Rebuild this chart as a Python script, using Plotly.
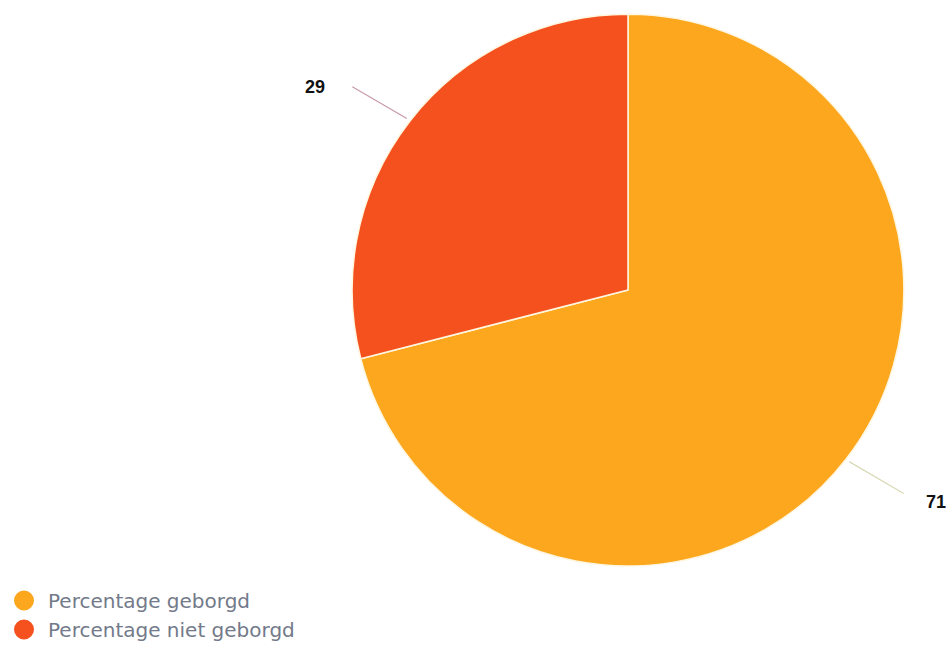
import math
import plotly.graph_objects as go

labels = ["Percentage geborgd", "Percentage niet geborgd"]
values = [71, 29]
colors = ["#FCA71D", "#F4511E"]
connector_colors = ["#d9d9b8", "#c79aa8"]

W, H = 950, 645
# pie domain (paper)
dom_x = [0.3705, 0.9516]
dom_y = [0.1225, 0.978]

fig = go.Figure()
fig.add_trace(go.Pie(
    labels=labels, values=values, sort=False, direction="clockwise", rotation=0,
    marker=dict(colors=colors, line=dict(color="#fff6e0", width=1.5)),
    textinfo="none", hoverinfo="label+value", showlegend=False,
    domain=dict(x=dom_x, y=dom_y),
))

# legend entries with circle symbols
for lab, col in zip(labels, colors):
    fig.add_trace(go.Scatter(
        x=[None], y=[None], mode="markers", name=lab,
        marker=dict(symbol="circle", size=16, color=col, line=dict(color=col, width=4)),
        showlegend=True, hoverinfo="skip",
    ))

# outside labels with connector lines, positions derived from values
cx_px = (dom_x[0] + dom_x[1]) / 2 * W
cy_px = (1 - (dom_y[0] + dom_y[1]) / 2) * H
r_px = min((dom_x[1] - dom_x[0]) * W, (dom_y[1] - dom_y[0]) * H) / 2
total = sum(values)
start = 0.0
for v, ccol in zip(values, connector_colors):
    frac = v / total
    mid = (start + frac / 2) * 2 * math.pi
    start += frac
    sx, sy = math.sin(mid), math.cos(mid)
    x0 = cx_px + (r_px + 4) * sx
    y0 = cy_px - (r_px + 4) * sy
    x1 = cx_px + (r_px + 73) * sx
    y1 = cy_px - (r_px + 56) * sy
    fig.add_shape(type="line", xref="paper", yref="paper",
                  x0=x0 / W, y0=1 - y0 / H, x1=x1 / W, y1=1 - y1 / H,
                  line=dict(color=ccol, width=1.2))
    right = sx > 0
    fig.add_annotation(
        x=x1 / W, y=1 - y1 / H, xref="paper", yref="paper",
        text=f"<b>{v}</b>", showarrow=False,
        xanchor="left" if right else "right", yanchor="middle",
        xshift=20 if right else -25, yshift=-8 if right else 0,
        font=dict(family="Liberation Sans, Arial, sans-serif", size=18, color="#111111"),
    )

fig.update_layout(
    width=W, height=H,
    margin=dict(l=0, r=0, t=0, b=0, autoexpand=False),
    paper_bgcolor="white", plot_bgcolor="white",
    xaxis=dict(visible=False), yaxis=dict(visible=False),
    showlegend=True,
    legend=dict(
        x=0.0, y=-4 / H, xanchor="left", yanchor="bottom",
        font=dict(family="DejaVu Sans, sans-serif", size=20, color="#737a8a"),
        bgcolor="rgba(0,0,0,0)", tracegroupgap=0, itemsizing="trace",
        itemwidth=38,
    ),
)

fig.write_html("out.html", config={"displayModeBar": False},
               post_script="document.body.style.margin='0';")
